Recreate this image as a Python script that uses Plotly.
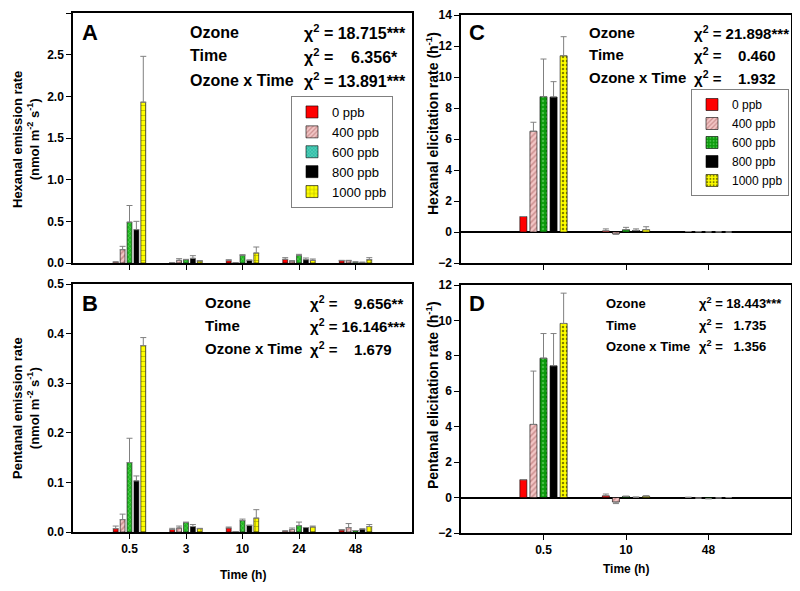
import plotly.graph_objects as go

# The page body has an 8px margin, so the figure is drawn 8px in from the window edge.
OFF = 8
W, H = 800 - OFF, 591 - OFF

# ---------------- data ----------------
series_names = ["0 ppb", "400 ppb", "600 ppb", "800 ppb", "1000 ppb"]
times_ab = ["0.5", "3", "10", "24", "48"]
times_cd = ["0.5", "10", "48"]

# Panel A: Hexanal emission rate (nmol m-2 s-1)
hexE_0 = [0.012, 0.005, 0.028, 0.044, 0.028]
hexE_400 = [0.16, 0.032, 0.004, 0.024, 0.028]
hexE_600 = [0.49, 0.040, 0.092, 0.092, 0.012]
hexE_800 = [0.40, 0.056, 0.032, 0.040, 0.008]
hexE_1000 = [1.93, 0.024, 0.120, 0.032, 0.040]
hexE_err_0 = [0.0, 0.0, 0.012, 0.020, 0.004]
hexE_err_400 = [0.04, 0.020, 0.0, 0.004, 0.004]
hexE_err_600 = [0.20, 0.004, 0.008, 0.012, 0.0]
hexE_err_800 = [0.10, 0.032, 0.004, 0.020, 0.0]
hexE_err_1000 = [0.55, 0.004, 0.072, 0.016, 0.024]

# Panel B: Pentanal emission rate
penE_0 = [0.0067, 0.005, 0.008, 0.002, 0.004]
penE_400 = [0.025, 0.008, 0.001, 0.005, 0.009]
penE_600 = [0.140, 0.019, 0.023, 0.013, 0.003]
penE_800 = [0.103, 0.011, 0.013, 0.009, 0.006]
penE_1000 = [0.376, 0.0067, 0.028, 0.010, 0.011]
penE_err_0 = [0.0053, 0.0024, 0.002, 0.0, 0.001]
penE_err_400 = [0.011, 0.004, 0.0, 0.003, 0.008]
penE_err_600 = [0.049, 0.001, 0.003, 0.007, 0.0]
penE_err_800 = [0.010, 0.004, 0.001, 0.0, 0.0]
penE_err_1000 = [0.016, 0.0007, 0.017, 0.002, 0.004]

# Panel C: Hexanal elicitation rate (h-1)
hexL_0 = [1.0, 0.07, 0.03]
hexL_400 = [6.5, -0.12, 0.02]
hexL_600 = [8.73, 0.15, 0.01]
hexL_800 = [8.71, 0.10, 0.01]
hexL_1000 = [11.37, 0.15, 0.0]
hexL_err_0 = [0.0, 0.13, 0.0]
hexL_err_400 = [0.58, 0.03, 0.0]
hexL_err_600 = [2.43, 0.15, 0.0]
hexL_err_800 = [0.99, 0.10, 0.0]
hexL_err_1000 = [1.23, 0.19, 0.0]

# Panel D: Pentanal elicitation rate (h-1)
penL_0 = [1.01, 0.10, 0.01]
penL_400 = [4.13, -0.25, -0.03]
penL_600 = [7.87, 0.07, -0.06]
penL_800 = [7.44, 0.02, -0.02]
penL_1000 = [9.83, 0.08, 0.0]
penL_err_0 = [0.0, 0.10, 0.0]
penL_err_400 = [3.01, 0.09, 0.0]
penL_err_600 = [1.39, 0.0, 0.0]
penL_err_800 = [1.82, 0.0, 0.0]
penL_err_1000 = [1.71, 0.02, 0.0]

stats_labels = ["Ozone", "Time", "Ozone x Time"]
stats_A = ["18.715***", "6.356*", "13.891***"]
stats_B = ["9.656**", "16.146***", "1.679"]
stats_C = ["21.898***", "0.460", "1.932"]
stats_D = ["18.443***", "1.735", "1.356"]

# ---------------- styles ----------------
FONT = "Liberation Sans, Arial, sans-serif"
NB = "\u00a0"

style_ab = [
    dict(color="#ff0000", pattern=dict(shape="")),
    dict(color="#f3c6c6", pattern=dict(shape="/", bgcolor="#f3c6c6", fgcolor="#a85c5c", size=4, solidity=0.4)),
    dict(color="#1fb81f", pattern=dict(shape="x", bgcolor="#1fb81f", fgcolor="#b8f0b0", size=3, solidity=0.3)),
    dict(color="#000000", pattern=dict(shape="")),
    dict(color="#ffff00", pattern=dict(shape="+", bgcolor="#ffff00", fgcolor="#5a5a00", size=5, solidity=0.25)),
]
style_legA = [
    dict(color="#ff0000", pattern=dict(shape="")),
    dict(color="#f3c6c6", pattern=dict(shape="/", bgcolor="#f3c6c6", fgcolor="#a85c5c", size=4, solidity=0.4)),
    dict(color="#30bfa8", pattern=dict(shape="x", bgcolor="#30bfa8", fgcolor="#c8f4ec", size=3, solidity=0.3)),
    dict(color="#000000", pattern=dict(shape="")),
    dict(color="#ffff00", pattern=dict(shape="+", bgcolor="#ffff00", fgcolor="#5a5a00", size=5, solidity=0.25)),
]
style_cd = [
    dict(color="#ff0000", pattern=dict(shape="")),
    dict(color="#f3c6c6", pattern=dict(shape="/", bgcolor="#f3c6c6", fgcolor="#a85c5c", size=4, solidity=0.4)),
    dict(color="#0c9a0c", pattern=dict(shape=".", bgcolor="#0c9a0c", fgcolor="#7ee07e", size=4, solidity=0.3)),
    dict(color="#000000", pattern=dict(shape="")),
    dict(color="#ffff00", pattern=dict(shape=".", bgcolor="#ffff00", fgcolor="#000000", size=4, solidity=0.3)),
]

panels = [
    dict(x="x", y="y", cats=times_ab, style=style_ab,
         vals=[hexE_0, hexE_400, hexE_600, hexE_800, hexE_1000],
         errs=[hexE_err_0, hexE_err_400, hexE_err_600, hexE_err_800, hexE_err_1000]),
    dict(x="x2", y="y2", cats=times_ab, style=style_ab,
         vals=[penE_0, penE_400, penE_600, penE_800, penE_1000],
         errs=[penE_err_0, penE_err_400, penE_err_600, penE_err_800, penE_err_1000]),
    dict(x="x3", y="y3", cats=times_cd, style=style_cd, legend="legend2",
         vals=[hexL_0, hexL_400, hexL_600, hexL_800, hexL_1000],
         errs=[hexL_err_0, hexL_err_400, hexL_err_600, hexL_err_800, hexL_err_1000]),
    dict(x="x4", y="y4", cats=times_cd, style=style_cd,
         vals=[penL_0, penL_400, penL_600, penL_800, penL_1000],
         errs=[penL_err_0, penL_err_400, penL_err_600, penL_err_800, penL_err_1000]),
]

fig = go.Figure()

for p in panels:
    for i, name in enumerate(series_names):
        v = p["vals"][i]
        e = p["errs"][i]
        plus = [ee if vv >= 0 else 0 for vv, ee in zip(v, e)]
        minus = [0 if vv >= 0 else ee for vv, ee in zip(v, e)]
        st = p["style"][i]
        fig.add_trace(go.Bar(
            x=p["cats"], y=v, name=name, xaxis=p["x"], yaxis=p["y"],
            showlegend=("legend" in p),
            legend=p.get("legend", "legend"),
            marker=dict(color=st["color"], pattern=st["pattern"],
                        line=dict(color="#000000", width=0.6)),
            error_y=dict(type="data", symmetric=False, array=plus, arrayminus=minus,
                         color="#808080", thickness=1, width=3),
        ))

# Legend-only traces for panel A (on a hidden axis)
for i, name in enumerate(series_names):
    st = style_legA[i]
    fig.add_trace(go.Bar(
        x=[None], y=[None], name=name, xaxis="x5", yaxis="y5",
        showlegend=True, legend="legend",
        marker=dict(color=st["color"], pattern=st["pattern"],
                    line=dict(color="#000000", width=0.6)),
    ))

def px(x):
    return (x - OFF) / W

def py(y):
    return 1 - (y - OFF) / H

axis_common = dict(showline=True, linecolor="black", linewidth=1.5, mirror=True,
                   ticks="outside", ticklen=5, tickwidth=1.2, tickcolor="black",
                   showgrid=False, automargin=False,
                   tickfont=dict(family=FONT, size=12, color="black", weight="bold"))

xa_ab = [px(73), px(412)]
xa_cd = [px(461), px(791)]

fig.update_layout(
    width=W, height=H,
    margin=dict(l=0, r=0, t=0, b=0),
    paper_bgcolor="white", plot_bgcolor="white",
    barmode="group", bargap=0.39, bargroupgap=0.3,
    font=dict(family=FONT, color="black"),
    xaxis=dict(domain=xa_ab, anchor="y", range=[-1, 5], type="category",
               showticklabels=False, zeroline=False, **axis_common),
    yaxis=dict(domain=[py(263), py(13)], anchor="x", range=[0, 3], tickmode="linear",
               tick0=0, dtick=0.5, tickformat=".1f", zeroline=False, **axis_common),
    xaxis2=dict(domain=xa_ab, anchor="y2", range=[-1, 5], type="category",
                zeroline=False, **axis_common),
    yaxis2=dict(domain=[py(532), py(284)], anchor="x2", range=[0, 0.5], tickmode="linear",
                tick0=0, dtick=0.1, tickformat=".1f", zeroline=False, **axis_common),
    xaxis3=dict(domain=xa_cd, anchor="y3", range=[-1, 3], type="category",
                showticklabels=False, zeroline=False, **axis_common),
    yaxis3=dict(domain=[py(263), py(15)], anchor="x3", range=[-2, 14], tickmode="linear",
                tick0=0, dtick=2, zeroline=True, zerolinecolor="black", zerolinewidth=1.5,
                **axis_common),
    xaxis4=dict(domain=xa_cd, anchor="y4", range=[-1, 3], type="category",
                zeroline=False, **axis_common),
    yaxis4=dict(domain=[py(533), py(285)], anchor="x4", range=[-2, 12], tickmode="linear",
                tick0=0, dtick=2, zeroline=True, zerolinecolor="black", zerolinewidth=1.5,
                **axis_common),
    xaxis5=dict(domain=[0, 0.01], anchor="y5", visible=False),
    yaxis5=dict(domain=[0, 0.01], anchor="x5", visible=False),
    legend=dict(x=px(291), y=py(96), xanchor="left", yanchor="top",
                bgcolor="white", bordercolor="#808080", borderwidth=1,
                font=dict(family=FONT, size=13, color="black"), traceorder="normal"),
    legend2=dict(x=px(691), y=py(89), xanchor="left", yanchor="top",
                 bgcolor="white", bordercolor="#808080", borderwidth=1,
                 font=dict(family=FONT, size=12, color="black"), traceorder="normal"),
)

ann = []

def txt(x, y, s, size, xanchor="left", angle=0, bold=True):
    ann.append(dict(x=px(x), y=py(y), xref="paper", yref="paper", text=s, showarrow=False,
                    xanchor=xanchor, yanchor="middle", textangle=angle,
                    font=dict(family=FONT, size=size, color="black",
                              weight="bold" if bold else "normal")))

def pad(v, n):
    return NB * n + v

# panel letters
txt(80, 33, "A", 22)
txt(80, 303, "B", 22)
txt(467, 33, "C", 22)
txt(467, 303, "D", 22)

# statistics blocks
def stats(xl, xc, ys, values, pads, size):
    for lab, val, y, pd in zip(stats_labels, values, ys, pads):
        txt(xl, y, lab, size)
        txt(xc, y, "\u03c7<sup>2</sup>" + NB + "=" + NB + pad(val, pd), size)

stats(188, 302, [32, 56, 80], stats_A, [0, 3, 0], 16)
stats(203, 308, [302, 325, 348], stats_B, [3, 0, 3], 15)
stats(587, 692, [32, 55, 78], stats_C, [0, 3, 3], 15)
stats(604, 697, [303, 325, 346], stats_D, [0, 2, 2], 13)

# axis titles
txt(26, 140, "Hexanal emission rate<br>(nmol m<sup>-2</sup> s<sup>-1</sup>)", 13, "center", -90)
txt(26, 408, "Pentanal emission rate<br>(nmol m<sup>-2</sup> s<sup>-1</sup>)", 13, "center", -90)
txt(432, 124, "Hexanal elicitation rate (h<sup>-1</sup>)", 14, "center", -90)
txt(432, 395, "Pentanal elicitation rate (h<sup>-1</sup>)", 14, "center", -90)
txt(243, 575, "Time (h)", 12, "center")
txt(626, 569, "Time (h)", 12, "center")

fig.update_layout(annotations=ann)
fig.write_html("out.html")
